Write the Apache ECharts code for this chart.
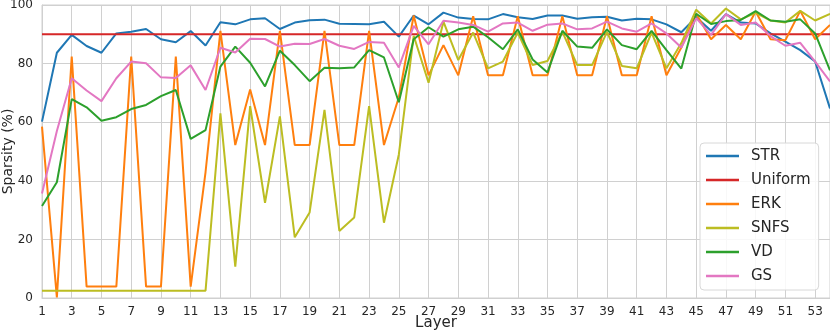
<!DOCTYPE html>
<html>
<head>
<meta charset="utf-8">
<script src="https://cdn.jsdelivr.net/npm/echarts@6.0.0/dist/echarts.min.js"></script>
<style>
  html, body { margin: 0; padding: 0; background: #fff; }
  #app { width: 830px; height: 332px; }
</style>
</head>
<body>
<div id="app"></div>
<script>
const layers = [1, 2, 3, 4, 5, 6, 7, 8, 9, 10, 11, 12, 13, 14, 15, 16, 17, 18, 19, 20,
  21, 22, 23, 24, 25, 26, 27, 28, 29, 30, 31, 32, 33, 34, 35, 36, 37, 38, 39, 40,
  41, 42, 43, 44, 45, 46, 47, 48, 49, 50, 51, 52, 53, 54];

const strValues = [60.2, 83.7, 89.8, 86, 83.7, 90.3, 90.9, 91.8, 88.3, 87.3,
  91.1, 86.2, 94.1, 93.4, 95.1, 95.5, 91.8, 94, 94.8, 95,
  93.6, 93.5, 93.4, 94.3, 89.2, 96.4, 93.4, 97.4, 95.7, 95.2,
  95.1, 96.9, 95.8, 95.2, 96.4, 96.4, 95.3, 95.8, 96, 94.7,
  95.3, 95.1, 93.4, 90.7, 95.8, 91.2, 96.9, 94, 93.7, 90.3,
  87.5, 84.6, 80.7, 64.7];

const uniformValues = [90, 90, 90, 90, 90, 90, 90, 90, 90, 90,
  90, 90, 90, 90, 90, 90, 90, 90, 90, 90,
  90, 90, 90, 90, 90, 90, 90, 90, 90, 90,
  90, 90, 90, 90, 90, 90, 90, 90, 90, 90,
  90, 90, 90, 90, 90, 90, 90, 90, 90, 90,
  90, 90, 90, 90];

const erkValues = [58.5, 0.2, 82.4, 3.9, 3.9, 3.9, 82.4, 3.9, 3.9, 82.4,
  3.9, 43, 91.2, 52.2, 71.2, 52.2, 91.2, 52.2, 52.2, 91.2,
  52.2, 52.2, 91.2, 52.2, 68.5, 96.4, 76, 86.3, 76, 96.2,
  76, 76, 96.2, 76, 76, 96.2, 76, 76, 96.2, 76,
  76, 96.2, 76, 85.5, 97, 88.3, 93.2, 88.3, 97.8, 88.3,
  88, 98, 88.3, 93.2];

const snfsValues = [2.5, 2.5, 2.5, 2.5, 2.5, 2.5, 2.5, 2.5, 2.5, 2.5,
  2.5, 2.5, 63, 10.7, 65.5, 32.5, 62, 20.7, 29.2, 64.2,
  22.9, 27.5, 65.5, 25.7, 49, 89.5, 73.5, 94.3, 81.2, 90.6,
  78.4, 80.7, 90.6, 79.5, 80.9, 90.8, 79.5, 79.5, 90.8, 79.2,
  78.4, 90.6, 78.4, 87, 98.4, 93.7, 98.8, 95.1, 97.3, 94.7,
  94, 98, 94.7, 97];

const vdValues = [31.4, 39.5, 67.9, 65.1, 60.5, 61.7, 64.5, 65.9, 68.9, 71,
  54.3, 57.3, 79, 85.8, 80.3, 72.2, 84.4, 79.5, 74, 78.6,
  78.4, 78.7, 84.6, 82.1, 66.8, 88.3, 92.4, 89.2, 91.7, 92.6,
  89, 84.9, 91.7, 81.4, 77, 91.2, 85.8, 85.4, 91.7, 86.3,
  84.9, 91.2, 84.6, 78.3, 97, 93.5, 94.5, 94.9, 97.9, 94.7,
  94.3, 95.1, 90.3, 77.7];

const gsValues = [35.7, 57, 75, 70.8, 67.2, 75, 80.7, 80.1, 75.3, 75.1,
  79.4, 71, 85.4, 83.8, 88.5, 88.4, 85.8, 86.8, 86.7, 88.4,
  86.1, 85, 87.4, 87.1, 78.7, 92.9, 86.6, 94.6, 94, 93.2,
  90.9, 93.7, 94, 91.2, 93.3, 93.7, 91.7, 92, 94.3, 92,
  90.9, 93.7, 90.3, 85.5, 95.5, 89.8, 96.9, 93.2, 94, 89.4,
  86.1, 87.1, 80.7, 73.9];

const yTicks = [0, 20, 40, 60, 80, 100];

const lines = [
  { name: 'STR', data: strValues, color: '#1f77b4' },
  { name: 'Uniform', data: uniformValues, color: '#d62728' },
  { name: 'ERK', data: erkValues, color: '#ff7f0e' },
  { name: 'SNFS', data: snfsValues, color: '#bcbd22' },
  { name: 'VD', data: vdValues, color: '#2ca02c' },
  { name: 'GS', data: gsValues, color: '#e377c2' },
];

const font = 'DejaVu Sans';
const gridColor = '#d0d0d0';

const buildOption = () => ({
  animation: false,
  backgroundColor: '#fff',
  textStyle: { fontFamily: font },
  grid: {
    left: 42,
    right: 0,
    top: 5,
    height: 293,
    outerBoundsMode: 'none',
    containLabel: false,
    show: true,
    borderColor: gridColor,
    borderWidth: 1,
  },
  legend: {
    left: 700,
    top: 143,
    orient: 'vertical',
    data: lines.map(l => l.name),
    icon: 'rect',
    itemWidth: 33,
    itemHeight: 2.5,
    itemGap: 6,
    padding: [4, 8, 5, 6],
    backgroundColor: 'rgba(255,255,255,0.85)',
    borderColor: '#d8d8d8',
    borderWidth: 1,
    borderRadius: 4,
    textStyle: {
      fontFamily: font,
      fontSize: 15,
      color: '#262626',
      lineHeight: 18,
      padding: [0, 0, 0, 7],
    },
  },
  xAxis: {
    type: 'category',
    data: layers,
    boundaryGap: false,
    name: 'Layer',
    nameLocation: 'middle',
    nameGap: 18,
    nameMoveOverlap: false,
    nameTextStyle: { fontFamily: font, fontSize: 15, color: '#262626' },
    axisLine: { lineStyle: { color: gridColor, width: 1 } },
    axisTick: { show: false },
    axisLabel: { interval: 1, margin: 8, fontFamily: font, fontSize: 12, color: '#262626' },
    splitLine: { show: true, interval: 1, lineStyle: { color: gridColor, width: 1 } },
  },
  yAxis: {
    type: 'value',
    min: yTicks[0],
    max: yTicks[yTicks.length - 1],
    interval: 20,
    name: 'Sparsity (%)',
    nameLocation: 'middle',
    nameGap: 27,
    nameMoveOverlap: false,
    nameTextStyle: { fontFamily: font, fontSize: 14, color: '#262626' },
    axisLine: { show: true, lineStyle: { color: gridColor, width: 1 } },
    axisTick: { show: false },
    axisLabel: { margin: 9, fontFamily: font, fontSize: 12, color: '#262626' },
    splitLine: { show: true, lineStyle: { color: gridColor, width: 1 } },
  },
  series: lines.map(l => ({
    name: l.name,
    type: 'line',
    data: l.data,
    symbol: 'none',
    color: l.color,
    lineStyle: { color: l.color, width: 2 },
    emphasis: { disabled: true },
  })),
});

const chart = echarts.init(document.getElementById('app'));
chart.setOption(buildOption());
</script>
</body>
</html>
